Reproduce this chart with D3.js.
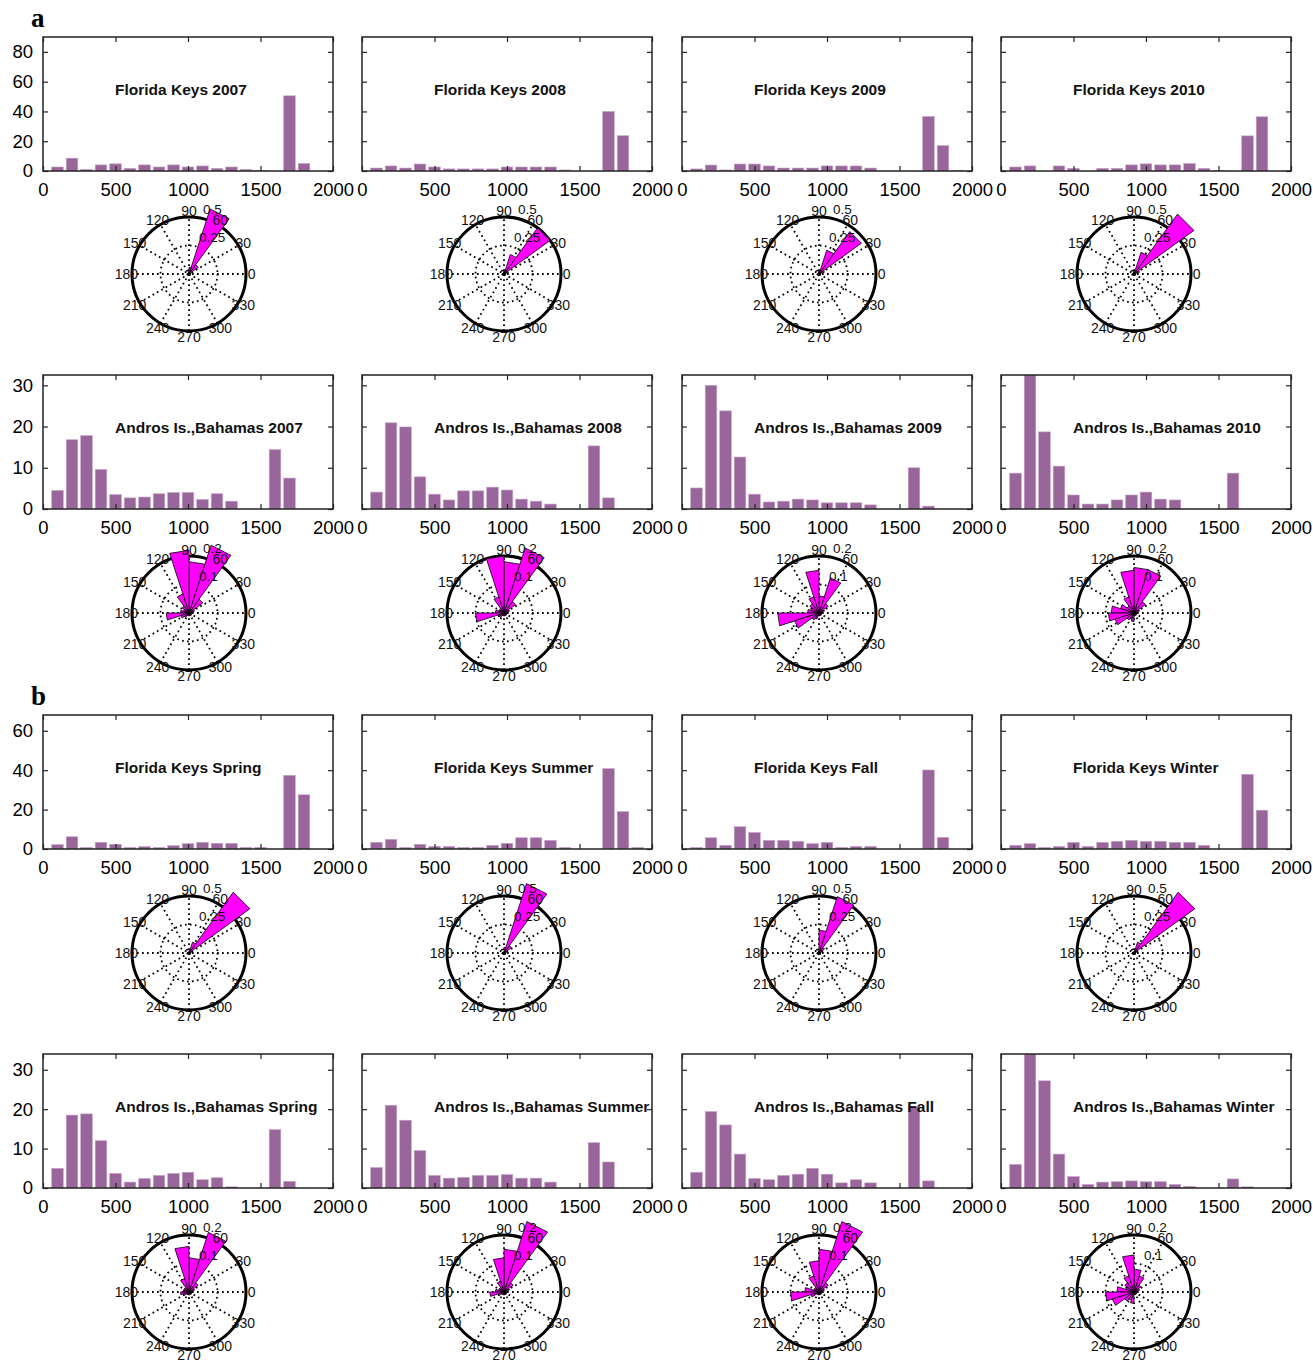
<!DOCTYPE html>
<html>
<head>
<meta charset="utf-8">
<script src="https://cdn.jsdelivr.net/npm/d3@7"></script>
<style>
  body { margin: 0; background: #fff; }
  text { font-family: "Liberation Sans", Arial, sans-serif; }
</style>
</head>
<body>
<svg id="fig" width="1313" height="1360"></svg>
<script>
// ---- histogram bins (x axis centres) ----
const binCenters = [100, 200, 300, 400, 500, 600, 700, 800, 900, 1000,
                    1100, 1200, 1300, 1400, 1500, 1600, 1700, 1800, 1900];

// panel a, Florida Keys by year
const fk2007 = [2.7, 8.6, 1.1, 4.1, 4.8, 1.8, 4.1, 2.7, 4.1, 2.7, 3.4, 1.8, 2.7, 1.1, 0.3, 0, 50.5, 5, 0];
const fk2008 = [2, 3.4, 2, 4.7, 2.7, 1.4, 1.4, 1.4, 1.4, 2.7, 2.7, 2.7, 2.7, 0.7, 0, 0, 40, 23.7, 0];
const fk2009 = [1.4, 4, 0.7, 4.7, 4.7, 3.4, 2, 2, 2, 3.4, 3.4, 3.4, 2, 0, 0, 0, 36.6, 17, 0.5];
const fk2010 = [2.7, 3.4, 0, 3.4, 1.8, 0, 1.8, 1.8, 4.1, 4.8, 4.1, 4.1, 5, 1.8, 0.3, 0, 23.6, 36.4, 0];
// panel a, Andros by year
const an2007 = [4.5, 16.8, 17.8, 9.6, 3.5, 2.7, 2.9, 3.7, 4, 4, 2.3, 3.7, 1.9, 0, 0, 14.4, 7.5, 0, 0];
const an2008 = [4.1, 20.9, 19.9, 7.8, 3.6, 2.2, 4.4, 4.4, 5.3, 4.6, 2.4, 1.9, 1.2, 0, 0, 15.3, 2.7, 0, 0];
const an2009 = [5.1, 30, 23.8, 12.6, 3.6, 1.7, 1.9, 2.4, 2.2, 1.5, 1.5, 1.5, 1, 0, 0, 10, 0.7, 0, 0];
const an2010 = [8.7, 32.5, 18.7, 10.4, 3.4, 1.2, 1.2, 2.2, 3.4, 4.1, 2.4, 2.2, 0, 0, 0, 8.7, 0, 0, 0];
// panel b, Florida Keys by season
const fkSpring = [2.2, 6.2, 0.8, 3.4, 2.4, 0.8, 1.2, 0.8, 1.7, 2.7, 3.4, 2.9, 2.9, 0.8, 0.8, 0, 37.4, 27.5, 0];
const fkSummer = [3.4, 4.9, 0.8, 2.4, 1.3, 1.3, 0.8, 0.8, 1.9, 2.9, 5.7, 5.7, 4.4, 0.8, 0, 0, 40.8, 19, 0.8];
const fkFall   = [0.8, 5.7, 1.9, 11.3, 8.4, 4.4, 4.4, 3.9, 2.7, 3.4, 0.8, 1.3, 1.3, 0, 0, 0, 40.1, 5.9, 0];
const fkWinter = [1.9, 2.7, 0.8, 1.3, 3.4, 1.3, 3.4, 3.9, 4.4, 3.9, 3.9, 3.4, 3.4, 1.9, 0, 0, 37.9, 19.7, 0];
// panel b, Andros by season
const anSpring = [5, 18.5, 18.8, 12, 3.7, 1.5, 2.4, 3.2, 3.7, 4, 2.1, 2.6, 0.3, 0, 0, 14.8, 1.7, 0, 0];
const anSummer = [5.2, 21, 17.2, 9.5, 3.2, 2.5, 2.7, 3.2, 3.2, 3.4, 2.5, 2.5, 1.5, 0, 0, 11.5, 6.6, 0, 0];
const anFall   = [4, 19.4, 16, 8.6, 2.4, 2.1, 3.2, 3.5, 5, 3.5, 1.3, 2.1, 1.3, 0, 0, 20.7, 1.8, 0, 0];
const anWinter = [6, 34, 27.2, 8.6, 2.9, 0.9, 1.5, 1.6, 1.8, 1.6, 1.6, 0.9, 0.4, 0, 0, 2.3, 0.3, 0, 0];

const xTicks = [0, 500, 1000, 1500, 2000];

// ---- rose diagrams: 20 bins of 18 deg (centre angles) ----
const roseAngles = [9, 27, 45, 63, 81, 99, 117, 135, 153, 171,
                    189, 207, 225, 243, 261, 279, 297, 315, 333, 351];
const roseFk2007 = [0.01, 0.02, 0.1, 0.6, 0.06, 0.02, 0.01, 0.01, 0.01, 0.01, 0.02, 0.01, 0.01, 0.01, 0, 0, 0.01, 0, 0, 0.01];
const roseFk2008 = [0.01, 0.04, 0.5, 0.18, 0.03, 0.02, 0.01, 0.01, 0, 0.01, 0.02, 0.01, 0.01, 0, 0, 0.01, 0, 0, 0, 0.01];
const roseFk2009 = [0.01, 0.05, 0.46, 0.22, 0.03, 0.02, 0.01, 0.01, 0, 0.01, 0.02, 0.01, 0.01, 0, 0, 0.01, 0, 0, 0, 0.01];
const roseFk2010 = [0.01, 0.05, 0.65, 0.2, 0.03, 0.02, 0.01, 0.01, 0, 0.01, 0.02, 0.01, 0.01, 0, 0, 0.01, 0, 0, 0, 0.01];
const roseAn2007 = [0.01, 0.02, 0.06, 0.25, 0.18, 0.22, 0.07, 0.03, 0.02, 0.03, 0.08, 0.03, 0.02, 0.01, 0.01, 0.01, 0.01, 0.01, 0.01, 0.01];
const roseAn2008 = [0.01, 0.02, 0.05, 0.24, 0.18, 0.2, 0.06, 0.02, 0.02, 0.03, 0.1, 0.02, 0.02, 0.01, 0.01, 0.01, 0.01, 0.01, 0.01, 0.01];
const roseAn2009 = [0.01, 0.02, 0.04, 0.13, 0.06, 0.15, 0.06, 0.04, 0.03, 0.04, 0.145, 0.09, 0.03, 0.02, 0.01, 0.01, 0.01, 0.01, 0.01, 0.01];
const roseAn2010 = [0.01, 0.02, 0.05, 0.16, 0.16, 0.15, 0.06, 0.03, 0.05, 0.08, 0.09, 0.07, 0.03, 0.02, 0.03, 0.01, 0.01, 0.01, 0.01, 0.01];
const roseFkSpring = [0.01, 0.03, 0.66, 0.1, 0.02, 0.01, 0.01, 0.01, 0, 0.01, 0.02, 0.01, 0.01, 0, 0, 0.01, 0, 0, 0, 0.01];
const roseFkSummer = [0.01, 0.03, 0.08, 0.64, 0.05, 0.01, 0.01, 0.01, 0, 0.01, 0.02, 0.01, 0.01, 0, 0, 0.01, 0, 0, 0, 0.01];
const roseFkFall   = [0.01, 0.03, 0.06, 0.52, 0.2, 0.02, 0.01, 0.01, 0, 0.01, 0.02, 0.01, 0.01, 0, 0, 0.01, 0, 0, 0, 0.01];
const roseFkWinter = [0.01, 0.03, 0.66, 0.1, 0.02, 0.01, 0.01, 0.01, 0, 0.01, 0.02, 0.01, 0.01, 0, 0, 0.01, 0, 0, 0, 0.01];
const roseAnSpring = [0.01, 0.02, 0.04, 0.22, 0.12, 0.16, 0.05, 0.02, 0.02, 0.02, 0.03, 0.02, 0.01, 0.01, 0.01, 0.01, 0.01, 0.01, 0.01, 0.01];
const roseAnSummer = [0.01, 0.02, 0.04, 0.26, 0.15, 0.12, 0.04, 0.02, 0.02, 0.03, 0.05, 0.02, 0.01, 0.01, 0.01, 0.01, 0.01, 0.01, 0.01, 0.01];
const roseAnFall   = [0.01, 0.02, 0.04, 0.26, 0.15, 0.11, 0.06, 0.02, 0.02, 0.05, 0.1, 0.03, 0.01, 0.01, 0.01, 0.01, 0.01, 0.01, 0.01, 0.01];
const roseAnWinter = [0.01, 0.02, 0.03, 0.06, 0.08, 0.13, 0.06, 0.04, 0.03, 0.06, 0.1, 0.08, 0.04, 0.03, 0.04, 0.01, 0.01, 0.01, 0.01, 0.01];

const spokeLabels = ['0', '30', '60', '90', '120', '150', '180', '210', '240', '270', '300', '330'];

// ---- layout ----
const svg = d3.select('#fig');
const colLefts = [43, 362, 682, 1001];
const polarXs = [189, 504, 819, 1134];
const plotW = 290, plotH = 134, polarR = 57;
const barColor = '#98669a';

const rows = [
  {top: 37,   yMax: 90,   yTicks: [0, 20, 40, 60, 80], rMax: 0.5, polarY: 274,
   titles: ['Florida Keys 2007', 'Florida Keys 2008', 'Florida Keys 2009', 'Florida Keys 2010'],
   hists: [fk2007, fk2008, fk2009, fk2010], roses: [roseFk2007, roseFk2008, roseFk2009, roseFk2010]},
  {top: 375,  yMax: 32.5, yTicks: [0, 10, 20, 30], rMax: 0.2, polarY: 613,
   titles: ['Andros Is.,Bahamas 2007', 'Andros Is.,Bahamas 2008', 'Andros Is.,Bahamas 2009', 'Andros Is.,Bahamas 2010'],
   hists: [an2007, an2008, an2009, an2010], roses: [roseAn2007, roseAn2008, roseAn2009, roseAn2010]},
  {top: 715,  yMax: 68,   yTicks: [0, 20, 40, 60], rMax: 0.5, polarY: 953,
   titles: ['Florida Keys Spring', 'Florida Keys Summer', 'Florida Keys Fall', 'Florida Keys Winter'],
   hists: [fkSpring, fkSummer, fkFall, fkWinter], roses: [roseFkSpring, roseFkSummer, roseFkFall, roseFkWinter]},
  {top: 1054, yMax: 34,   yTicks: [0, 10, 20, 30], rMax: 0.2, polarY: 1292,
   titles: ['Andros Is.,Bahamas Spring', 'Andros Is.,Bahamas Summer', 'Andros Is.,Bahamas Fall', 'Andros Is.,Bahamas Winter'],
   hists: [anSpring, anSummer, anFall, anWinter], roses: [roseAnSpring, roseAnSummer, roseAnFall, roseAnWinter]}
];

// panel letters
svg.append('text').attr('x', 31).attr('y', 27).text('a')
  .style('font-family', '"Liberation Serif", "Times New Roman", serif')
  .attr('font-weight', 'bold').attr('font-size', 27);
svg.append('text').attr('x', 31).attr('y', 705).text('b')
  .style('font-family', '"Liberation Serif", "Times New Roman", serif')
  .attr('font-weight', 'bold').attr('font-size', 27);

// histogram panel
function drawHist(row, col, ri) {
  const left = colLefts[col];
  const x = d3.scaleLinear().domain([0, 2000]).range([left, left + plotW]);
  const y = d3.scaleLinear().domain([0, row.yMax]).range([row.top + plotH, row.top]);
  const g = svg.append('g');
  const clipId = 'clip' + ri + '_' + col;
  g.append('clipPath').attr('id', clipId).append('rect')
    .attr('x', left).attr('y', row.top).attr('width', plotW).attr('height', plotH);

  const vals = row.hists[col];
  g.append('g').attr('clip-path', `url(#${clipId})`)
    .selectAll('rect').data(binCenters.map((c, i) => ({c, v: vals[i]})).filter(d => d.v > 0))
    .enter().append('rect')
    .attr('x', d => x(d.c - 40))
    .attr('width', d => x(d.c + 40) - x(d.c - 40))
    .attr('y', d => y(d.v))
    .attr('height', d => y(0) - y(d.v))
    .attr('fill', barColor)
    .attr('stroke', '#c9a3c9').attr('stroke-width', 0.6);

  // axes with inward ticks
  g.append('g').attr('transform', `translate(0,${row.top + plotH})`)
    .call(d3.axisBottom(x).tickValues(xTicks).tickSizeInner(-5).tickSizeOuter(0).tickPadding(12)
      .tickFormat(d3.format('d')));
  g.append('g').attr('transform', `translate(0,${row.top})`)
    .call(d3.axisTop(x).tickValues(xTicks).tickSizeInner(-5).tickSizeOuter(0).tickFormat(''));
  g.append('g').attr('transform', `translate(${left},0)`)
    .call(d3.axisLeft(y).tickValues(row.yTicks).tickSizeInner(-5).tickSizeOuter(0).tickPadding(10)
      .tickFormat(col === 0 ? d3.format('d') : ''));
  g.append('g').attr('transform', `translate(${left + plotW},0)`)
    .call(d3.axisRight(y).tickValues(row.yTicks).tickSizeInner(-5).tickSizeOuter(0).tickFormat(''));
  g.selectAll('.domain').remove();
  g.selectAll('.tick line').attr('stroke', '#222').attr('stroke-width', 1.2);
  g.selectAll('.tick text').attr('font-size', 18.5).attr('fill', '#000')
    .style('font-family', '"Liberation Sans", Arial, sans-serif');

  g.append('rect').attr('x', left).attr('y', row.top).attr('width', plotW).attr('height', plotH)
    .attr('fill', 'none').attr('stroke', '#222').attr('stroke-width', 1.5);

  g.append('text').attr('x', left + 72).attr('y', row.top + 58)
    .text(row.titles[col]).attr('font-size', 15.5).attr('font-weight', 'bold').attr('fill', '#111');
}

// rose (MATLAB polar style) panel
function drawRose(row, col) {
  const cx = polarXs[col], cy = row.polarY;
  const r = d3.scaleLinear().domain([0, row.rMax]).range([0, polarR]);
  const rad = d => d * Math.PI / 180;
  const g = svg.append('g').attr('transform', `translate(${cx},${cy})`);

  // dotted spokes
  g.selectAll('line.spoke').data([0, 30, 60, 90, 120, 150]).enter().append('line')
    .attr('x1', a => -polarR * Math.cos(rad(a))).attr('y1', a => polarR * Math.sin(rad(a)))
    .attr('x2', a => polarR * Math.cos(rad(a))).attr('y2', a => -polarR * Math.sin(rad(a)))
    .attr('stroke', '#000').attr('stroke-width', 1.8).attr('stroke-dasharray', '1.7,3.3');
  // dotted inner ring
  g.append('circle').attr('r', r(row.rMax / 2)).attr('fill', 'none')
    .attr('stroke', '#000').attr('stroke-width', 1.8).attr('stroke-dasharray', '1.7,3.3');
  // outer ring
  g.append('circle').attr('r', r(row.rMax)).attr('fill', 'none')
    .attr('stroke', '#000').attr('stroke-width', 3);

  // wedges
  const vals = row.roses[col];
  const line = d3.line();
  g.selectAll('path.wedge').data(roseAngles.map((a, i) => ({a, v: vals[i]})).filter(d => d.v > 0))
    .enter().append('path')
    .attr('d', d => line([[0, 0],
      [r(d.v) * Math.cos(rad(d.a - 9)), -r(d.v) * Math.sin(rad(d.a - 9))],
      [r(d.v) * Math.cos(rad(d.a + 9)), -r(d.v) * Math.sin(rad(d.a + 9))]]) + 'Z')
    .attr('fill', '#ff00ff').attr('stroke', '#000').attr('stroke-width', 0.8);

  // spoke labels
  g.selectAll('text.sp').data(spokeLabels).enter().append('text')
    .attr('x', (t, i) => 1.1 * polarR * Math.cos(rad(i * 30)))
    .attr('y', (t, i) => -1.1 * polarR * Math.sin(rad(i * 30)))
    .attr('text-anchor', 'middle').attr('dominant-baseline', 'central')
    .attr('font-size', 14).attr('fill', '#111').text(t => t);

  // radial labels at 82 deg
  const rLabels = [row.rMax / 2, row.rMax];
  g.selectAll('text.rl').data(rLabels).enter().append('text')
    .attr('x', v => r(v) * Math.cos(rad(82)) + 6)
    .attr('y', v => -r(v) * Math.sin(rad(82)) - 4)
    .attr('font-size', 13.5).attr('fill', '#111').text(v => String(v));
}

rows.forEach((row, ri) => {
  for (let c = 0; c < 4; c++) {
    drawHist(row, c, ri);
    drawRose(row, c);
  }
});
</script>
</body>
</html>
